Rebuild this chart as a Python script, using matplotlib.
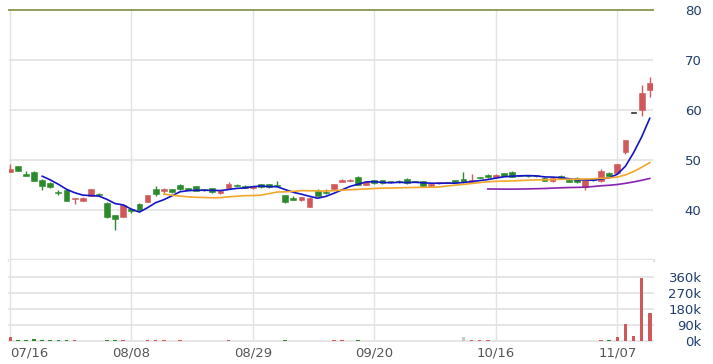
import numpy as np
import pandas as pd
import matplotlib
matplotlib.use("Agg")
import matplotlib.pyplot as plt

# ---- data ----
opens = [47.7, 48.7, 47.1, 47.6, 46.0, 45.5, 43.6, 44.1, 42.2, 41.9,
         42.8, 43.2, 41.5, 39.0, 38.7, 40.3, 41.3, 41.7, 44.3, 43.9,
         44.2, 45.1, 44.3, 44.7, 44.1, 44.4, 43.4, 44.4, 45.0, 44.9,
         44.4, 45.2, 45.2, 45.0, 43.0, 42.3, 42.1, 40.7, 43.9, 43.6,
         44.2, 45.7, 45.9, 46.7, 45.1, 46.0, 46.0, 45.8, 45.9, 46.3,
         45.8, 45.7, 44.8, 45.4, 45.5, 46.0, 46.2, 45.7, 46.6, 47.1,
         46.6, 47.4, 47.7, 47.0, 46.9, 46.9, 46.5, 45.8, 46.9, 46.1,
         46.5, 44.6, 46.3, 45.8, 47.5, 47.5, 51.7, 59.5, 60.0, 64.0]
highs = [49.2, 48.8, 47.9, 47.9, 46.2, 45.6, 44.0, 44.3, 42.5, 42.7,
         44.2, 43.4, 41.6, 39.1, 41.3, 40.5, 41.4, 43.0, 44.8, 44.4,
         44.3, 45.3, 44.4, 44.8, 44.2, 44.5, 44.0, 45.6, 45.3, 45.0,
         44.9, 45.3, 45.3, 45.8, 43.1, 42.9, 42.7, 42.7, 44.2, 44.2,
         45.3, 46.2, 46.2, 46.8, 45.8, 46.1, 46.1, 45.9, 46.0, 46.4,
         45.9, 45.8, 45.3, 45.6, 45.7, 46.1, 47.7, 47.3, 46.7, 47.2,
         47.2, 47.5, 47.8, 47.1, 47.0, 47.0, 46.6, 46.5, 47.0, 46.2,
         46.6, 46.0, 46.4, 48.3, 47.6, 49.2, 54.0, 59.5, 65.0, 66.6]
lows = [47.6, 47.8, 46.9, 45.9, 44.1, 44.5, 43.0, 41.9, 41.3, 41.8,
        42.8, 42.9, 38.5, 36.0, 38.6, 39.5, 40.0, 41.6, 42.8, 43.5,
        43.5, 44.1, 44.0, 43.8, 43.9, 43.5, 43.3, 44.3, 44.8, 44.4,
        44.3, 44.5, 44.5, 44.7, 41.5, 42.0, 41.9, 40.6, 42.8, 43.3,
        44.1, 45.6, 45.8, 45.0, 45.0, 45.3, 45.3, 45.5, 45.5, 45.3,
        45.6, 44.8, 44.7, 45.3, 45.4, 45.4, 45.5, 45.6, 46.4, 46.5,
        46.5, 46.8, 46.6, 46.8, 46.7, 46.7, 45.8, 45.7, 46.3, 45.6,
        45.5, 44.1, 45.9, 45.7, 46.8, 47.2, 51.2, 59.5, 58.8, 62.7]
closes = [48.3, 47.9, 46.9, 45.9, 44.8, 44.6, 43.5, 41.9, 42.5, 42.4,
          44.1, 43.0, 38.6, 38.3, 41.1, 39.8, 40.1, 43.0, 43.3, 44.1,
          43.6, 44.2, 44.1, 43.8, 44.0, 43.6, 43.9, 45.2, 44.9, 44.5,
          44.8, 44.6, 44.6, 44.8, 41.6, 42.1, 42.7, 42.5, 42.9, 43.4,
          45.2, 46.1, 46.0, 45.1, 45.7, 45.4, 45.4, 45.6, 45.6, 45.4,
          45.7, 44.9, 45.2, 45.5, 45.6, 45.6, 45.6, 46.1, 46.5, 46.6,
          47.1, 46.9, 46.7, 46.9, 46.8, 46.8, 45.9, 46.5, 46.4, 45.7,
          45.6, 46.0, 46.0, 47.7, 46.9, 49.2, 54.0, 59.5, 63.5, 65.5]
volumes = [20, 3, 3, 12, 3, 3, 3, 3, 3, 0,
           0, 0, 3, 3, 3, 0, 0, 3, 3, 3,
           0, 3, 0, 0, 0, 0, 0, 3, 0, 0,
           0, 0, 0, 0, 3, 0, 0, 0, 0, 0,
           3, 3, 0, 3, 0, 0, 0, 0, 0, 0,
           0, 0, 0, 0, 0, 0, 20, 3, 3, 3,
           0, 0, 0, 0, 0, 0, 0, 0, 0, 0,
           0, 0, 0, 3, 3, 21, 96, 28, 352, 159]  # thousands
date_labels = ["07/16", "08/08", "08/29", "09/20", "10/16", "11/07"]
label_every = 15
ma_windows = [5, 20, 60]
price_ticks = [40, 50, 60, 70, 80]
vol_ticks = [0, 90, 180, 270, 360]

# ---- style ----
RED = "#d0585a"
GREEN = "#2b8a2b"
FLAT = "#222222"
VOL_FLAT = "#c8c8c8"
MA_COLORS = ["#1414c8", "#f2a62a", "#8a22b0"]
GRID = "#e2e2e2"
TOP_LINE = "#8f9e5c"
YLAB = "#1f3d6e"
XLAB = "#555555"

n = len(closes)
x = np.arange(n)
o = np.array(opens); h = np.array(highs); l = np.array(lows); c = np.array(closes)
vol = np.array(volumes) * 1000.0

fig = plt.figure(figsize=(7.13, 3.64), dpi=100)
W, H = 713.0, 364.0
left, right = 9 / W, 653 / W
ax = fig.add_axes([left, 1 - 260 / H, right - left, 250 / H])
axv = fig.add_axes([left, 1 - 341 / H, right - left, 81 / H], sharex=ax)

xlim = (-0.1, 79.4)
for a in (ax, axv):
    a.set_xlim(*xlim)
    for s in a.spines.values():
        s.set_visible(False)
    a.set_facecolor("white")
    a.tick_params(axis="both", length=0)
    for k in range(len(date_labels)):
        a.axvline(k * label_every, color=GRID, lw=1.0, zorder=0)

# price panel
ax.set_ylim(30, 80)
for p in price_ticks[:-1]:
    ax.axhline(p, color=GRID, lw=1.2, zorder=0)
ax.axhline(80, color=TOP_LINE, lw=1.4, zorder=1, clip_on=False)
ax.axhline(30, color="#e4e4e4", lw=2.4, zorder=1, clip_on=False)

body_w = 0.72
cols = np.where(c > o, RED, np.where(c < o, GREEN, FLAT))
ax.vlines(x, l, h, colors=cols, lw=1.0, zorder=2)
bottoms = np.minimum(o, c)
heights = np.maximum(np.abs(c - o), 0.22)
bottoms = np.where(np.abs(c - o) < 0.22, (o + c) / 2 - 0.11, bottoms)
ax.bar(x, heights, bottom=bottoms, width=body_w, color=cols, edgecolor=cols, lw=0.4, zorder=3)

s = pd.Series(closes)
for w, col in zip(ma_windows, MA_COLORS):
    ma = s.rolling(w).mean()
    ax.plot(x, ma.values, color=col, lw=1.2, zorder=4)

ax.yaxis.tick_right()
ax.set_yticks(price_ticks)
ax.set_yticklabels([str(t) for t in price_ticks], color=YLAB, fontsize=9.5, ha="right")
ax.tick_params(axis="y", pad=35)
ax.tick_params(axis="x", labelbottom=False)

# volume panel
axv.set_ylim(0, 455000)
for t in vol_ticks:
    axv.axhline(t * 1000, color=GRID, lw=1.2, zorder=0, clip_on=False)
prev = np.concatenate([[c[0] - 1], c[:-1]])
vcols = np.where(c > prev, RED, np.where(c < prev, GREEN, VOL_FLAT))
axv.bar(x, vol, width=0.45, color=vcols, zorder=3)
axv.yaxis.tick_right()
axv.set_yticks([t * 1000 for t in vol_ticks])
axv.set_yticklabels([f"{t}k" for t in vol_ticks], color=YLAB, fontsize=9.5, ha="right")
axv.tick_params(axis="y", pad=35)

ticks = [k * label_every for k in range(len(date_labels))]
axv.set_xticks(ticks)
axv.set_xticklabels(date_labels, color=XLAB, fontsize=9.5)
axv.tick_params(axis="x", pad=4)
lbls = axv.get_xticklabels()
lbls[0].set_ha("left")

fig.savefig("out.png", dpi=100)
